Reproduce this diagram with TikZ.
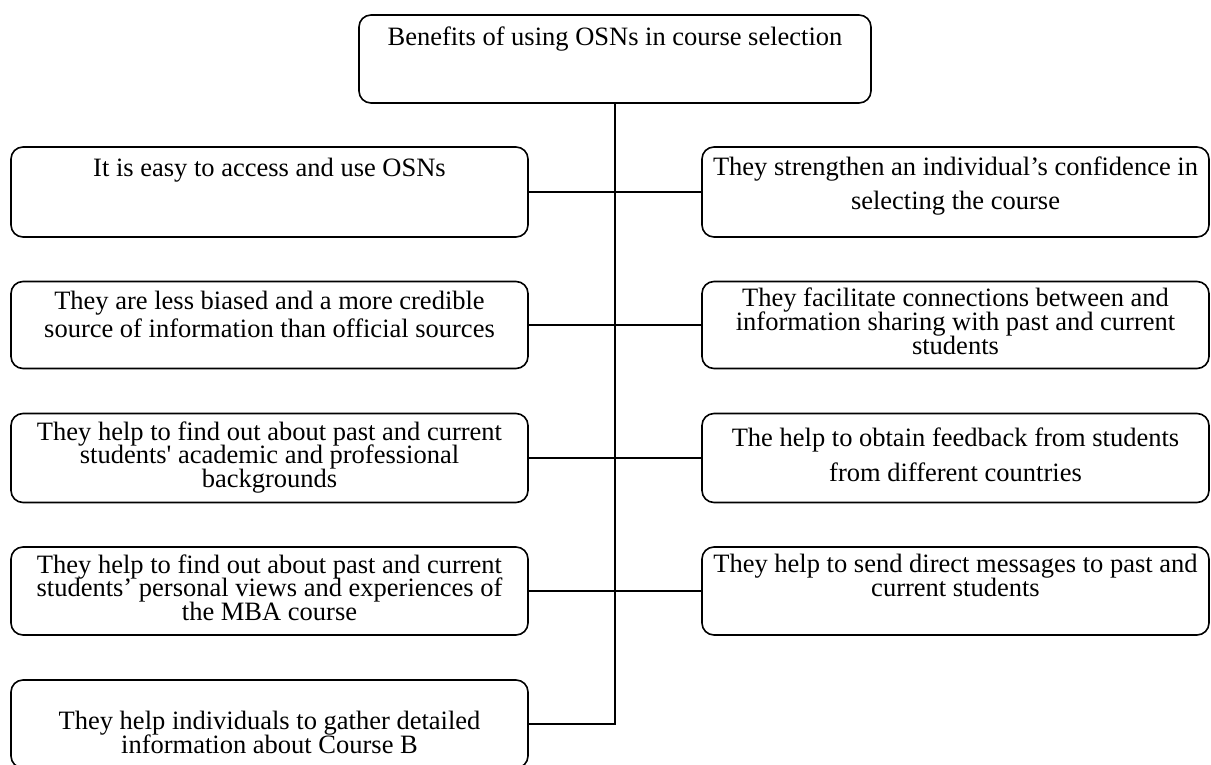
\documentclass[tikz,border=0pt]{standalone}
\usepackage{fontspec}
\setmainfont{Liberation Serif}
\lineskiplimit=-100pt
\begin{document}
\begin{tikzpicture}[x=1pt,y=-1pt,
  box/.style={draw, line width=1.6pt, rounded corners=12pt, inner sep=0pt},
  lbl/.style={anchor=north, align=center, inner sep=0pt},
  link/.style={line width=1.6pt}]
\useasboundingbox (0,0) rectangle (1211,764);

% heading box
\node[box, minimum width=512pt, minimum height=88pt] (top) at (615,59) {};
\node[lbl, font=\fontsize{26.5}{30}\selectfont] (toptxt) at (615,26.5)
  {Benefits of using OSNs in course selection};

% left column
\node[box, minimum width=517pt, minimum height=90pt] (l1) at (269.5,192) {};
\node[box, minimum width=517pt, minimum height=87pt] (l2) at (269.5,325) {};
\node[box, minimum width=517pt, minimum height=89pt] (l3) at (269.5,458) {};
\node[box, minimum width=517pt, minimum height=88pt] (l4) at (269.5,591) {};
\node[box, minimum width=517pt, minimum height=88pt] (l5) at (269.5,724) {};

\node[lbl, font=\fontsize{26.5}{30}\selectfont] (l1txt) at (269.5,157.5)
  {It is easy to access and use OSNs};
\node[lbl, font=\fontsize{26.5}{28}\selectfont] (l2txt) at (269.5,290.5)
  {They are less biased and a more credible\\source of information than official sources};
\node[lbl, font=\fontsize{26.5}{23.5}\selectfont] (l3txt) at (269.5,421.5)
  {They help to find out about past and current\\students\textquotesingle{} academic and professional\\backgrounds};
\node[lbl, font=\fontsize{26.5}{23.5}\selectfont] (l4txt) at (269.5,554.5)
  {They help to find out about past and current\\students’ personal views and experiences of\\the MBA course};
\node[lbl, font=\fontsize{26.5}{23.5}\selectfont] (l5txt) at (269.5,711)
  {They help individuals to gather detailed\\information about Course B};

% right column
\node[box, minimum width=507pt, minimum height=90pt] (r1) at (955.5,192) {};
\node[box, minimum width=507pt, minimum height=87pt] (r2) at (955.5,325) {};
\node[box, minimum width=507pt, minimum height=89pt] (r3) at (955.5,458) {};
\node[box, minimum width=507pt, minimum height=88pt] (r4) at (955.5,591) {};

\node[lbl, font=\fontsize{26.5}{34}\selectfont] (r1txt) at (955.5,156.5)
  {They strengthen an individual’s confidence in\\selecting the course};
\node[lbl, font=\fontsize{26.5}{24}\selectfont] (r2txt) at (955.5,287.5)
  {They facilitate connections between and\\information sharing with past and current\\students};
\node[lbl, font=\fontsize{26.5}{35}\selectfont] (r3txt) at (955.5,427.5)
  {The help to obtain feedback from students\\from different countries};
\node[lbl, font=\fontsize{26.5}{24}\selectfont] (r4txt) at (955.5,553.5)
  {They help to send direct messages to past and\\current students};

% spine and branches
\draw[link] (top.south) |- (l5.east);
\foreach \n in {l1,l2,l3,l4}
  \draw[link] (\n.east) -- (\n.east -| top.south);
\foreach \n in {r1,r2,r3,r4}
  \draw[link] (\n.west) -- (\n.west -| top.south);
\end{tikzpicture}
\end{document}
